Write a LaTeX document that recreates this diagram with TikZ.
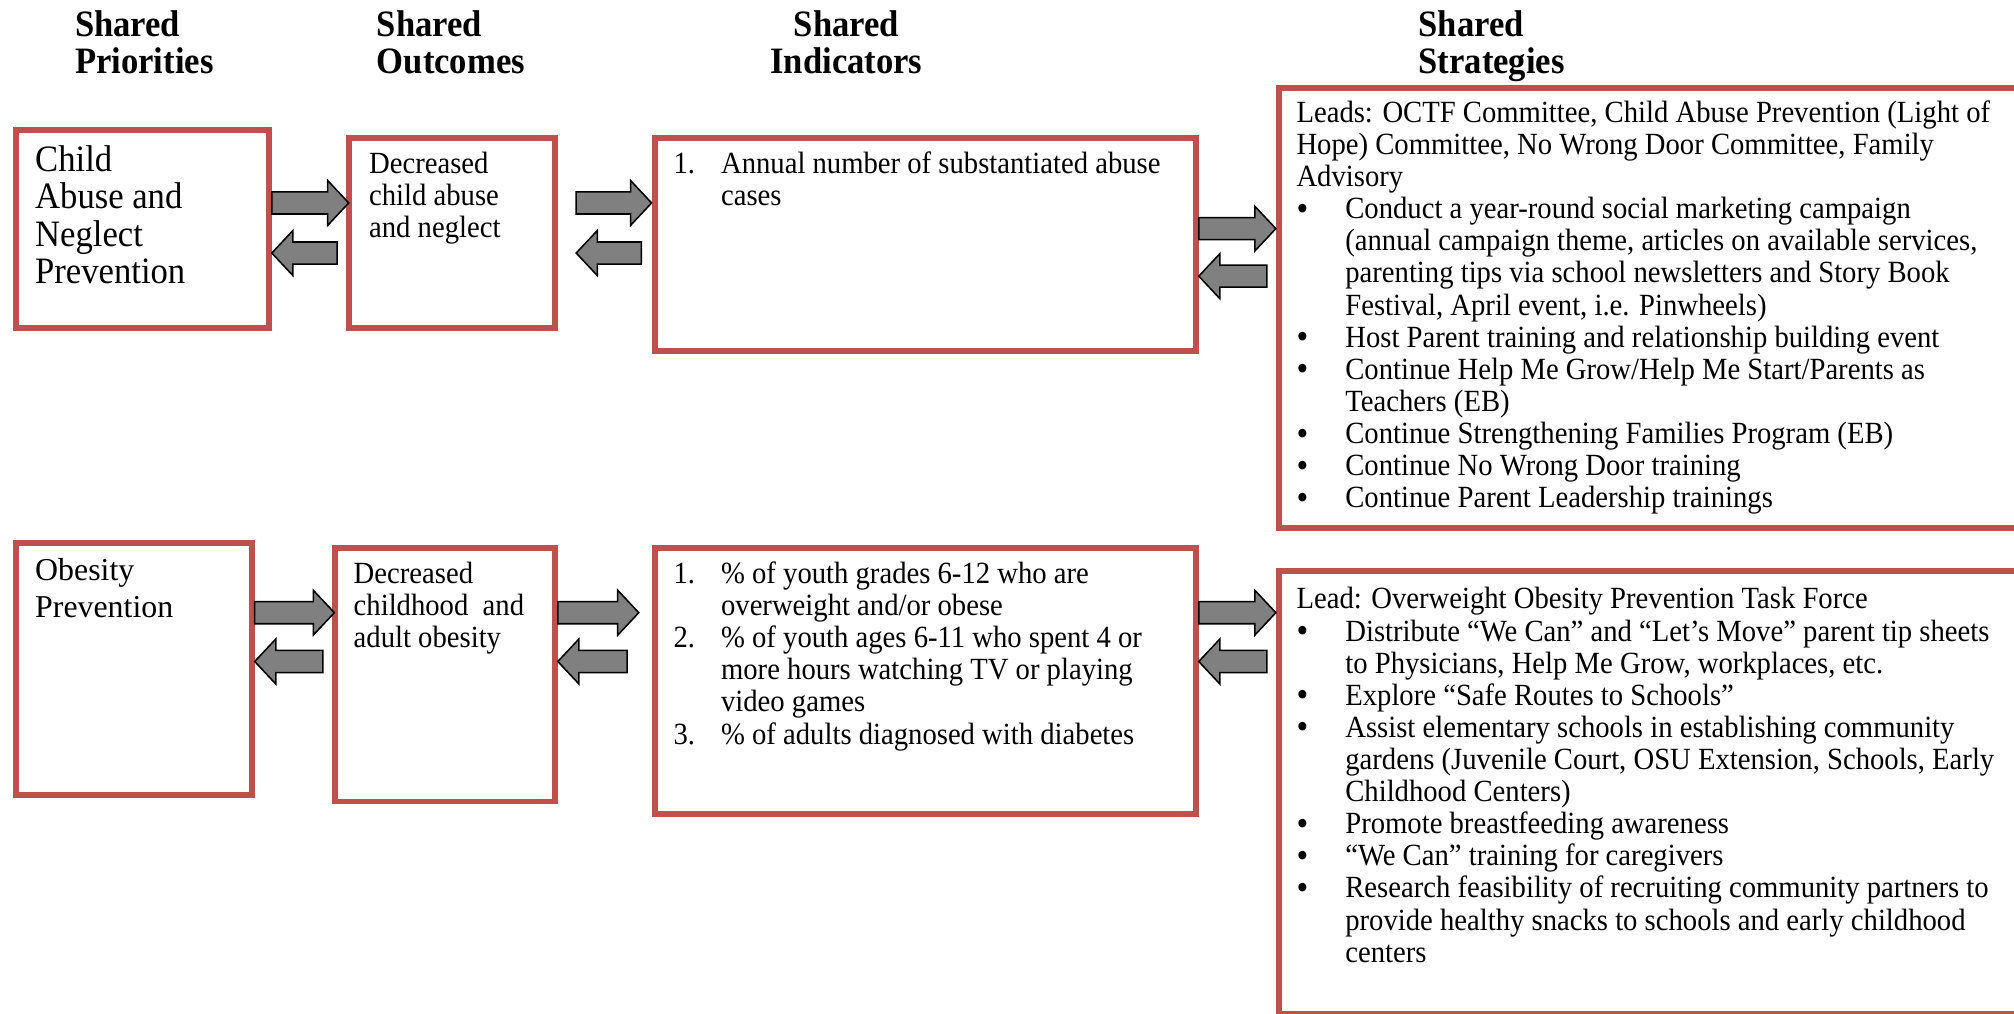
\documentclass[tikz,border=0pt]{standalone}
\usepackage{fontspec}
\setmainfont{Liberation Serif}[FakeStretch=0.93]
\newfontfamily\plainserif{Liberation Serif}
\usetikzlibrary{calc}
\definecolor{boxred}{HTML}{C0504D}
\definecolor{arrowgray}{HTML}{808080}

\newcommand{\itm}{\makebox[19pt][l]{\raisebox{-0.6pt}{\fontsize{14}{12}\selectfont\textbullet}}}
\newcommand{\cnt}{\hspace*{19pt}}
\newcommand{\numit}[1]{\makebox[18.5pt][l]{#1}}
\newcommand{\numgap}{\hspace*{18.5pt}}
% block arrow from #1 to #2 (height taken from #1)
\newcommand{\blkarrow}[2]{%
  \draw[blk] let \p1=(#1), \p2=(#2), \n1={ifthenelse(\x2>\x1,1,-1)} in
    (\x1,\y1+4.3pt) -- (\x2-\n1*8.2pt,\y1+4.3pt) -- (\x2-\n1*8.2pt,\y1+8.75pt) -- (\x2,\y1)
    -- (\x2-\n1*8.2pt,\y1-8.75pt) -- (\x2-\n1*8.2pt,\y1-4.3pt) -- (\x1,\y1-4.3pt) -- cycle;}

\begin{document}
\begin{tikzpicture}[
    x=0.5pt, y=-0.5pt,
    box/.style={draw=boxred, line width=2.3pt, anchor=north west, inner sep=0pt},
    head/.style={font=\fontsize{14.5}{14.5}\selectfont\bfseries, align=left, anchor=north west, inner sep=0pt},
    pri/.style={font=\fontsize{14.5}{14.5}\selectfont, align=left, anchor=north west, inner sep=0pt},
    txt/.style={font=\fontsize{12}{12.5}\selectfont, align=left, anchor=north west, inner sep=0pt},
    blk/.style={draw=black, line width=0.6pt, fill=arrowgray, line join=miter},
  ]
  \clip (0,0) rectangle (1568,789);

  % arrow heights
  \coordinate (up1) at (0,158);
  \coordinate (dn1) at (0,197);
  \coordinate (up1s) at (0,178);
  \coordinate (dn1s) at (0,215);
  \coordinate (up2) at (0,477);
  \coordinate (dn2) at (0,515);

  % --- Headings ---
  \node[head] (hpri) at (58,8) {Shared\\Priorities};
  \node[head] (hout) at (293,8) {Shared\\Outcomes};
  \node[head, align=center, anchor=north] (hind) at (659,8) {Shared\\Indicators};
  \node[head] (hstr) at (1104,8) {Shared\\Strategies};

  % --- Child abuse row ---
  \node[box, minimum width=98.5pt, minimum height=77pt] (pri1) at (10,99) {};
  \node[box, minimum width=80.25pt, minimum height=74pt] (out1) at (269.5,105) {};
  \node[box, minimum width=210.7pt, minimum height=82.7pt] (ind1) at (507.3,105.3) {};
  \node[box, minimum width=300pt, minimum height=171.2pt] (str1) at (993.3,66.3) {};

  \node[pri] (pri1t) at (27,113) {Child\\Abuse and\\Neglect\\Prevention};
  \node[txt] (out1t) at (287,118) {Decreased\\child abuse\\and neglect};
  \node[txt] (ind1t) at (524,118) {\numit{1.}Annual number of substantiated abuse\\
    \numgap cases};
  \node[txt] (str1t) at (1009,78) {Leads: OCTF Committee, Child Abuse Prevention (Light of\\
    Hope) Committee, No Wrong Door Committee, Family\\
    Advisory\\
    \itm Conduct a year-round social marketing campaign\\
    \cnt (annual campaign theme, articles on available services,\\
    \cnt parenting tips via school newsletters and Story Book\\
    \cnt Festival, April event, i.e. Pinwheels)\\
    \itm Host Parent training and relationship building event\\
    \itm Continue Help Me Grow/Help Me Start/Parents as\\
    \cnt Teachers (EB)\\
    \itm Continue Strengthening Families Program (EB)\\
    \itm Continue No Wrong Door training\\
    \itm Continue Parent Leadership trainings};

  \blkarrow{pri1.east |- up1}{$(out1.west |- up1)+(2,0)$}
  \blkarrow{$(out1.west |- dn1)+(-7,0)$}{pri1.east |- dn1}
  \blkarrow{$(out1.east |- up1)+(14,0)$}{ind1.west |- up1}
  \blkarrow{$(ind1.west |- dn1)+(-8,0)$}{$(out1.east |- dn1)+(14,0)$}
  \blkarrow{ind1.east |- up1s}{str1.west |- up1s}
  \blkarrow{$(str1.west |- dn1s)+(-7,0)$}{ind1.east |- dn1s}

  % --- Obesity row ---
  \node[box, minimum width=91.7pt, minimum height=98.2pt] (pri2) at (10.3,420.3) {};
  \node[box, minimum width=85.7pt, minimum height=98.7pt] (out2) at (258.3,424.3) {};
  \node[box, minimum width=210.7pt, minimum height=103.7pt] (ind2) at (507.3,424.3) {};
  \node[box, minimum width=300pt, minimum height=172.5pt] (str2) at (993.3,442.3) {};

  \node[pri, font=\plainserif\fontsize{12.4}{14.5}\selectfont] (pri2t) at (27,434) {Obesity\\Prevention};
  \node[txt] (out2t) at (275,437) {Decreased\\childhood\ \ and\\adult obesity};
  \node[txt] (ind2t) at (524,437) {\numit{1.}\% of youth grades 6-12 who are\\
    \numgap overweight and/or obese\\
    \numit{2.}\% of youth ages 6-11 who spent 4 or\\
    \numgap more hours watching TV or playing\\
    \numgap video games\\
    \numit{3.}\% of adults diagnosed with diabetes};
  \node[txt] (str2t) at (1009,457) {Lead: Overweight Obesity Prevention Task Force\\
    \itm Distribute “We Can” and “Let’s Move” parent tip sheets\\
    \cnt to Physicians, Help Me Grow, workplaces, etc.\\
    \itm Explore “Safe Routes to Schools”\\
    \itm Assist elementary schools in establishing community\\
    \cnt gardens (Juvenile Court, OSU Extension, Schools, Early\\
    \cnt Childhood Centers)\\
    \itm Promote breastfeeding awareness\\
    \itm “We Can” training for caregivers\\
    \itm Research feasibility of recruiting community partners to\\
    \cnt provide healthy snacks to schools and early childhood\\
    \cnt centers};

  \blkarrow{pri2.east |- up2}{$(out2.west |- up2)+(2,0)$}
  \blkarrow{$(out2.west |- dn2)+(-7,0)$}{pri2.east |- dn2}
  \blkarrow{out2.east |- up2}{$(ind2.west |- up2)+(-10,0)$}
  \blkarrow{$(ind2.west |- dn2)+(-19,0)$}{out2.east |- dn2}
  \blkarrow{ind2.east |- up2}{str2.west |- up2}
  \blkarrow{$(str2.west |- dn2)+(-7,0)$}{ind2.east |- dn2}
\end{tikzpicture}
\end{document}
